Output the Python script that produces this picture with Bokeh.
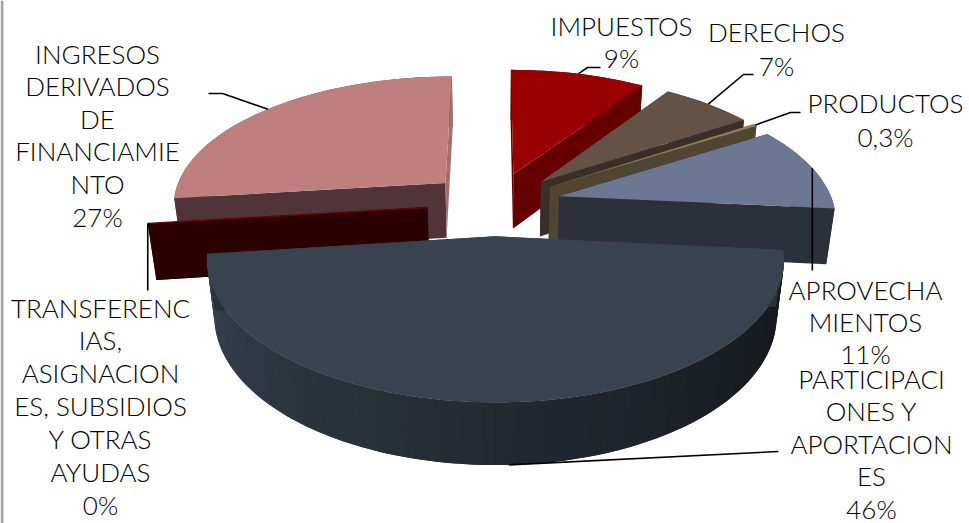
import math
from bokeh.plotting import figure
from bokeh.models import ColumnDataSource, Span
from bokeh.core.properties import value
from bokeh.embed import file_html
from bokeh.resources import INLINE

# ---- data (clockwise from 12 o'clock), estimated shares behind the rounded labels
categories = ["IMPUESTOS", "DERECHOS", "PRODUCTOS", "APROVECHAMIENTOS",
              "PARTICIPACIONES Y APORTACIONES",
              "TRANSFERENCIAS, ASIGNACIONES, SUBSIDIOS Y OTRAS AYUDAS",
              "INGRESOS DERIVADOS DE FINANCIAMIENTO"]
shares = [9.4, 6.4, 0.3, 10.4, 46.55, 0.0, 26.95]
label_lines = [
    ["IMPUESTOS", "9%"],
    ["DERECHOS", "7%"],
    ["PRODUCTOS", "0,3%"],
    ["APROVECHA", "MIENTOS", "11%"],
    ["PARTICIPACI", "ONES Y", "APORTACION", "ES", "46%"],
    ["TRANSFERENC", "IAS,", "ASIGNACION", "ES, SUBSIDIOS", "Y OTRAS", "AYUDAS", "0%"],
    ["INGRESOS", "DERIVADOS", "DE", "FINANCIAMIE", "NTO", "27%"],
]

# ---- styles / layout
top_col = ["#990000", "#645247", "#8f7d58", "#6b7793", "#39434f", "#6b0000", "#bf7f7f"]
start_col = ["#660000", "#3a2e28", "#4f4532", "#2b303b", "#2b303b", "#2b0000", "#50343a"]
end_col = ["#660000", "#3a2e28", "#4f4532", "#2b303b", "#2b303b", "#2b0000", "#a66f6f"]
wall_col = ["#660000", "#3a2e28", "#4f4532", "#2b303b", None, "#2b0000", "#50343a"]
paint_order = [6, 0, 1, 2, 3, 5, 4]
label_x = [621, 776, 885, 865, 871, 100, 97]
label_y0 = [25, 31, 102, 289, 378, 307, 53]
label_step = [32, 34, 34, 32, 32.5, 32.9, 32.6]
leader_z = [0, 0, 0, 0, 1, 0, 0]
leader_deg_shift = [0, 0, 0, 0, -1.5, 0, 0]
leader_path = [[(587, 67), (600, 67)], [(743, 74), (753, 74)], [(790, 112), (800, 112)],
               [(None, 270)], [(778, 451)], [(None, 290)], [(222, 93), (208, 93)]]
CX, CY, A, B, C = 494, 203, 274, 129, 57
PERSP, PERSP_Z, EXPL = 0.155, 0.025, 0.245

total = sum(shares)
cum = [0.0]
for s in shares:
    cum.append(cum[-1] + s)
ang = [c / total * 360 for c in cum]


def project(deg, r, z, mid):
    """Slice point at angle deg (cw from top), radius r, depth z; exploded along mid."""
    a, m = math.radians(deg), math.radians(mid)
    u = r * math.sin(a) + EXPL * math.sin(m)
    v = -r * math.cos(a) - EXPL * math.cos(m)
    w = 1 - PERSP * v + PERSP_Z * z
    return CX + A * u / w, CY + (B * v + C * z) / w


def arc(a0, a1, z, mid, n):
    return [project(a0 + (a1 - a0) * k / n, 1, z, mid) for k in range(n + 1)]


def lerp_hex(c0, c1, t):
    p = [int(c0[i:i + 2], 16) for i in (1, 3, 5)]
    q = [int(c1[i:i + 2], 16) for i in (1, 3, 5)]
    return "#%02x%02x%02x" % tuple(round(x + (y - x) * t) for x, y in zip(p, q))


xs, ys, fills = [], [], []


def add(points, col):
    xs.append([pt[0] for pt in points])
    ys.append([pt[1] for pt in points])
    fills.append(col)


for i in paint_order:
    a0, a1 = ang[i], ang[i + 1]
    mid = (a0 + a1) / 2
    n = max(2, int((a1 - a0) / 2))
    # outer wall
    if wall_col[i] is None:
        for k in range(n):
            b0 = a0 + (a1 - a0) * k / n
            b1 = a0 + (a1 - a0) * min(k + 2, n) / n
            t = k / max(n - 1, 1)
            col = lerp_hex("#14181d", "#38434e", t ** 1.3)
            add([project(b0, 1, 0, mid)] + arc(b0, b1, 0, mid, 2)[1:] + arc(b1, b0, 1, mid, 2), col)
    else:
        add(arc(a0, a1, 0, mid, n) + arc(a1, a0, 1, mid, n), wall_col[i])
    # radial cut faces
    add([project(0, 0, 0, mid), project(a0, 1, 0, mid), project(a0, 1, 1, mid), project(0, 0, 1, mid)], start_col[i])
    add([project(0, 0, 0, mid), project(a1, 1, 0, mid), project(a1, 1, 1, mid), project(0, 0, 1, mid)], end_col[i])
    # top face
    add([project(0, 0, 0, mid)] + arc(a0, a1, 0, mid, n), top_col[i])

p = figure(width=969, height=523, x_range=(0, 969), y_range=(523, 0),
           output_backend="svg", toolbar_location=None, min_border=0,
           outline_line_color=None, background_fill_color="white")
p.axis.visible = False
p.grid.visible = False

p.add_layout(Span(location=1.5, dimension="height", line_color="#a6a6a6", line_width=3))

src = ColumnDataSource(dict(xs=xs, ys=ys, fill=fills))
p.patches("xs", "ys", source=src, fill_color="fill", line_color=None)

# zero-size slice's lit top edge
t_mid = ang[5]
t0 = project(0, 0, 0, t_mid)
t1 = project(t_mid, 1, 0, t_mid)
p.line([t0[0], t1[0]], [t0[1], t1[1]], line_color=top_col[5], line_width=1.5)

# leaders from each slice's mid-arc point
for i in range(len(shares)):
    mid = (ang[i] + ang[i + 1]) / 2
    start = project(mid + leader_deg_shift[i], 1, leader_z[i], mid)
    path = [start] + [(start[0] if q[0] is None else q[0], q[1]) for q in leader_path[i]]
    p.line([q[0] for q in path], [q[1] for q in path], line_color="black", line_width=1.6)

tx, ty, tt = [], [], []
for i, lines in enumerate(label_lines):
    for j, line in enumerate(lines):
        tx.append(label_x[i])
        ty.append(label_y0[i] + j * label_step[i])
        tt.append(line)
p.text(tx, ty, text=tt, text_align="center", text_baseline="middle",
       text_font=value("Lato Light"), text_font_size="26px", text_color="#000000")

open("out.html", "w").write(file_html(p, INLINE))
